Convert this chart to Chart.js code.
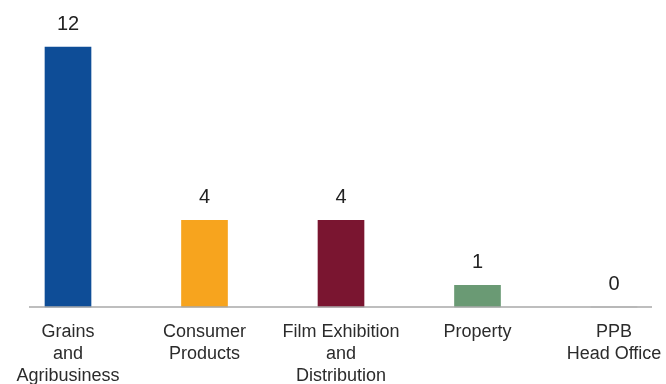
<!DOCTYPE html>
<html>
<head>
<meta charset="utf-8">
<script src="https://cdn.jsdelivr.net/npm/chart.js@4"></script>
<style>
  html, body { margin: 0; padding: 0; background: #ffffff; }
  #wrap { width: 666px; height: 384px; position: relative; }
</style>
</head>
<body>
<div id="wrap"><canvas id="segments"></canvas></div>
<script>
// Business segments and their counts
const segments = [
  ['Grains', 'and', 'Agribusiness'],
  ['Consumer', 'Products'],
  ['Film Exhibition', 'and', 'Distribution'],
  ['Property'],
  ['PPB', 'Head Office']
];
const counts = [12, 4, 4, 1, 0];
const barColors = ['#0e4d97', '#f7a41e', '#7a1530', '#6a9a74', '#9e9e9e'];

const fontFamily = '"Liberation Sans", Arial, Helvetica, sans-serif';

// Draws the count above each bar and the grey baseline under the bars
const valueLabels = {
  id: 'valueLabels',
  afterDatasetsDraw(chart) {
    const ctx = chart.ctx;
    const meta = chart.getDatasetMeta(0);
    const area = chart.chartArea;
    const yScale = chart.scales.y;
    const base = yScale.getPixelForValue(0);

    // baseline runs a bit past the outer bars
    ctx.save();
    ctx.strokeStyle = '#a8a8a8';
    ctx.lineWidth = 1.5;
    ctx.beginPath();
    ctx.moveTo(area.left - 39, base);
    ctx.lineTo(area.right + 38, base);
    ctx.stroke();

    ctx.fillStyle = '#222222';
    ctx.font = '20px ' + fontFamily;
    ctx.textAlign = 'center';
    ctx.textBaseline = 'middle';
    meta.data.forEach((bar, i) => {
      ctx.fillText(String(counts[i]), bar.x, bar.y - 22.5);
    });
    ctx.restore();
  }
};

const chartData = {
  labels: segments,
  datasets: [
    {
      data: counts,
      backgroundColor: barColors,
      borderWidth: 0,
      barThickness: 46,
      clip: false
    }
  ]
};

const chartConfig = {
  type: 'bar',
  data: chartData,
  options: {
    responsive: true,
    maintainAspectRatio: false,
    animation: false,
    layout: {
      padding: { left: 68, right: 52, top: 47, bottom: 0 }
    },
    plugins: {
      legend: { display: false },
      tooltip: { enabled: false }
    },
    scales: {
      x: {
        offset: false,
        grid: { display: false, drawTicks: false },
        border: { display: false },
        ticks: {
          padding: 14,
          maxRotation: 0,
          autoSkip: false,
          color: '#2b2b2b',
          font: { family: fontFamily, size: 18, lineHeight: '22px' }
        },
        afterFit: (scale) => {
          // keep the outer labels from pushing the plot inwards
          scale.height = 77;
          scale.paddingLeft = 0;
          scale.paddingRight = 0;
        }
      },
      y: {
        display: false,
        min: 0,
        max: 12
      }
    }
  },
  plugins: [valueLabels]
};

new Chart(document.getElementById('segments'), chartConfig);
</script>
</body>
</html>
